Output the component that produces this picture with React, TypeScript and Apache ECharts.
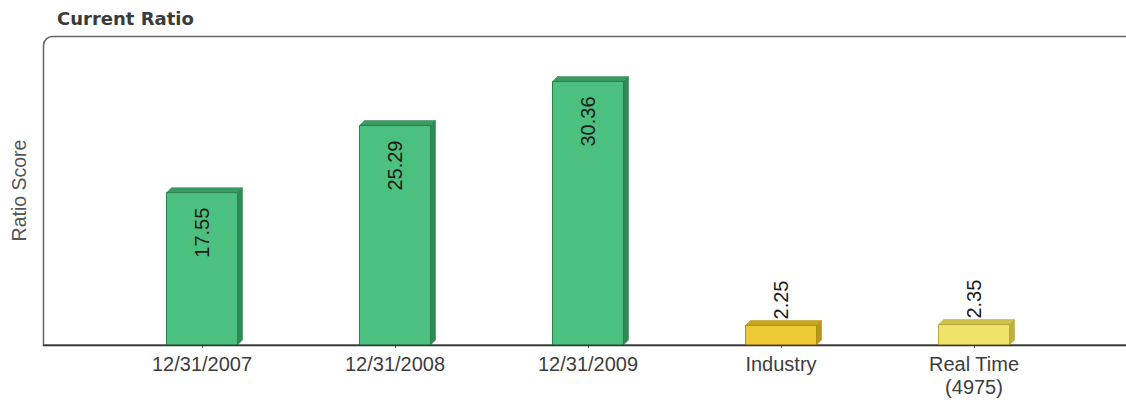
import React, { useEffect, useRef } from "react";
import * as echarts from "echarts";

const categories = ["12/31/2007", "12/31/2008", "12/31/2009", "Industry", "Real Time\n(4975)"];
const values = [17.55, 25.29, 30.36, 2.25, 2.35];
const faceColors = ["#4cc07f", "#4cc07f", "#4cc07f", "#efc935", "#f1e36a"];
const topColors = ["#3a9c62", "#3a9c62", "#3a9c62", "#c9a51e", "#cfc24a"];
const sideColors = ["#2f8a55", "#2f8a55", "#2f8a55", "#b8941a", "#bdb040"];
const edgeColors = ["#2a7f4c", "#2a7f4c", "#2a7f4c", "#b08c14", "#b5a63a"];

export default function App() {
  const ref = useRef<HTMLDivElement>(null);
  useEffect(() => {
    const chart = echarts.init(ref.current!, null, { renderer: "svg" });
    const data = values.map((v, i) => [i, v]);
    chart.setOption({
      animation: false,
      backgroundColor: "#ffffff",
      title: {
        text: "Current Ratio",
        left: 57,
        top: 9,
        padding: 0,
        textStyle: { fontFamily: "DejaVu Sans", fontWeight: "bold", fontSize: 18, color: "#3a3a3a" },
      },
      graphic: [
        {
          type: "rect",
          shape: { x: 43.5, y: 36.5, width: 1200, height: 308.5, r: [9, 0, 0, 0] },
          style: { fill: "none", stroke: "#666", lineWidth: 1.5 },
          silent: true,
        },
        {
          type: "line",
          shape: { x1: 43, y1: 345.5, x2: 1126, y2: 345.5 },
          style: { stroke: "#333", lineWidth: 1.5 },
          silent: true,
          z: 10,
        },
      ],
      grid: { left: 105.5, right: 55.5, top: 36, bottom: 57, outerBoundsMode: "none", containLabel: false },
      xAxis: {
        type: "category",
        data: categories,
        axisLine: { show: false },
        axisTick: { show: true, alignWithLabel: true, length: 3, lineStyle: { color: "#555" } },
        axisLabel: {
          color: "#3d3d3d",
          fontFamily: "Liberation Sans",
          fontSize: 20,
          margin: 7,
          lineHeight: 23,
          interval: 0,
        },
      },
      yAxis: {
        type: "value",
        min: 0,
        max: 35.6,
        name: "Ratio Score",
        nameLocation: "middle",
        nameGap: 77,
        nameTextStyle: { color: "#555", fontFamily: "Liberation Sans", fontSize: 19.5 },
        axisLine: { show: false },
        axisTick: { show: false },
        axisLabel: { show: false },
        splitLine: { show: false },
      },
      series: [
        {
          type: "custom",
          data,
          renderItem: (params: any, api: any) => {
            const idx = api.value(0);
            const val = api.value(1);
            const top = api.coord([idx, val]);
            const base = api.coord([idx, 0]);
            const w = api.size([1, 0])[0] * 0.368;
            const d = 5;
            const x = top[0] - w / 2;
            const y = top[1];
            const b = base[1];
            const i = params.dataIndex;
            const big = val > 5;
            const label = val.toFixed(2);
            return {
              type: "group",
              children: [
                {
                  type: "polygon",
                  shape: { points: [[x + w, y], [x + w + d, y - d], [x + w + d, b - d], [x + w, b]] },
                  style: { fill: sideColors[i], stroke: edgeColors[i], lineWidth: 0.5 },
                },
                {
                  type: "polygon",
                  shape: { points: [[x, y], [x + d, y - d], [x + w + d, y - d], [x + w, y]] },
                  style: { fill: topColors[i], stroke: edgeColors[i], lineWidth: 0.5 },
                },
                {
                  type: "rect",
                  shape: { x: x, y: y, width: w, height: b - y },
                  style: { fill: faceColors[i], stroke: edgeColors[i], lineWidth: 1 },
                },
                {
                  type: "text",
                  x: top[0],
                  y: big ? y + 15 : y - 6,
                  rotation: Math.PI / 2,
                  style: {
                    text: label,
                    fill: "#1a1a1a",
                    font: "20px 'Liberation Sans'",
                    align: big ? "right" : "left",
                    verticalAlign: "middle",
                  },
                },
              ],
            };
          },
        },
      ],
    });
    return () => chart.dispose();
  }, []);
  return (
    <div
      ref={ref}
      style={{ position: "fixed", left: 0, top: 0, width: 1126, height: 402 }}
    />
  );
}
